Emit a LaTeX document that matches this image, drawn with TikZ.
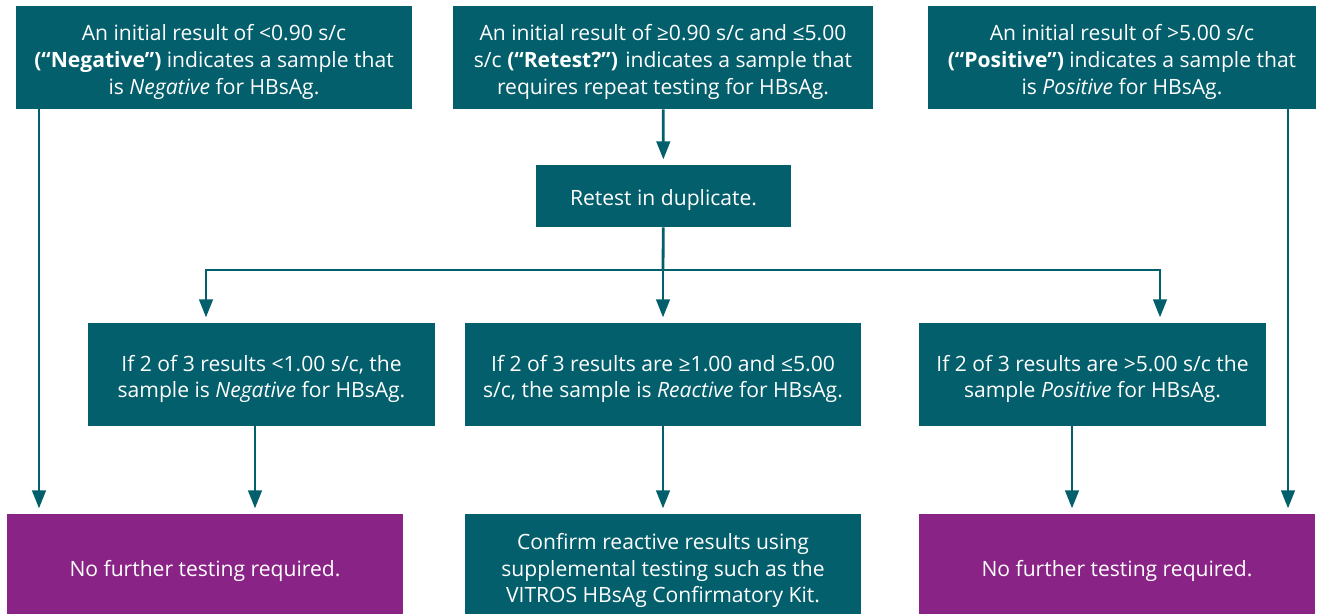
\documentclass[tikz,border=0pt]{standalone}
\usepackage{fontspec}
\setmainfont{Open Sans}
\usetikzlibrary{arrows.meta}
\definecolor{tealbox}{HTML}{035F6C}
\definecolor{plumbox}{HTML}{8A2386}

\begin{document}
\begin{tikzpicture}[x=0.02cm,y=-0.02cm,
  box/.style={fill=tealbox,inner sep=0pt},
  endbox/.style={box,fill=plumbox},
  boxtext/.style={text=white,align=center,inner sep=0pt,yshift=-0.09cm,
    font=\fontsize{12}{15.3}\selectfont},
  lowtext/.style={boxtext,yshift=0.04cm},
  arr/.style={draw=tealbox,line width=1.6pt,-{Triangle[width=0.27cm,length=0.36cm]},shorten >=3pt},
  lin/.style={draw=tealbox,line width=1.6pt}]
\clip (0,0) rectangle (1317,614);

\node[box,minimum width=7.92cm,minimum height=2.06cm,label={[boxtext]center:{An initial result of <0.90 s/c\\ \textbf{(“Negative”)} indicates a sample that\\ is \textit{Negative} for HBsAg.}}] (tNeg) at (214,57.5) {};
\node[box,minimum width=8.4cm,minimum height=2.06cm,label={[boxtext]center:{An initial result of ≥0.90 s/c and ≤5.00\\ s/c \textbf{(“Retest?”)} indicates a sample that\\ requires repeat testing for HBsAg.}}] (tRet) at (663,57.5) {};
\node[box,minimum width=7.76cm,minimum height=2.06cm,label={[boxtext]center:{An initial result of >5.00 s/c\\ \textbf{(“Positive”)} indicates a sample that\\ is \textit{Positive} for HBsAg.}}] (tPos) at (1122,57.5) {};

\node[box,minimum width=5.1cm,minimum height=1.24cm,label={[boxtext]center:{Retest in duplicate.}}] (dup) at (663.5,196) {};

\node[box,minimum width=6.94cm,minimum height=2.06cm,label={[boxtext]center:{If 2 of 3 results <1.00 s/c, the\\ sample is \textit{Negative} for HBsAg.}}] (mNeg) at (261.5,374.5) {};
\node[box,minimum width=7.92cm,minimum height=2.06cm,label={[boxtext]center:{If 2 of 3 results are ≥1.00 and ≤5.00\\ s/c, the sample is \textit{Reactive} for HBsAg.}}] (mRea) at (663,374.5) {};
\node[box,minimum width=6.94cm,minimum height=2.06cm,label={[boxtext]center:{If 2 of 3 results are >5.00 s/c the\\ sample \textit{Positive} for HBsAg.}}] (mPos) at (1092.5,374.5) {};

\node[endbox,minimum width=7.92cm,minimum height=2.16cm,label={[lowtext]center:{No further testing required.}}] (bNeg) at (205,568) {};
\node[box,minimum width=7.92cm,minimum height=2.16cm,label={[lowtext]center:{Confirm reactive results using\\ supplemental testing such as the\\ VITROS HBsAg Confirmatory Kit.}}] (bRea) at (663,568) {};
\node[endbox,minimum width=7.92cm,minimum height=2.16cm,label={[lowtext]center:{No further testing required.}}] (bPos) at (1117,568) {};

\coordinate (hub) at (663,270);
\coordinate (leftX) at (206,270);
\coordinate (rightX) at (1160,270);
\coordinate (negX) at (39,0);
\coordinate (posX) at (1288,0);
\coordinate (mNegX) at (255,0);
\coordinate (mPosX) at (1072,0);

\draw[arr] (tRet) -- (dup);
\draw[lin] (dup) -- (hub);
\draw[arr] (hub) -| (mNeg.north -| leftX);
\draw[arr] (hub) -- (mRea);
\draw[arr] (hub) -| (mPos.north -| rightX);

\draw[arr] (tNeg.south -| negX) -- (bNeg.north -| negX);
\draw[arr] (tPos.south -| posX) -- (bPos.north -| posX);
\draw[arr] (mNeg.south -| mNegX) -- (bNeg.north -| mNegX);
\draw[arr] (mRea) -- (bRea);
\draw[arr] (mPos.south -| mPosX) -- (bPos.north -| mPosX);
\end{tikzpicture}
\end{document}
